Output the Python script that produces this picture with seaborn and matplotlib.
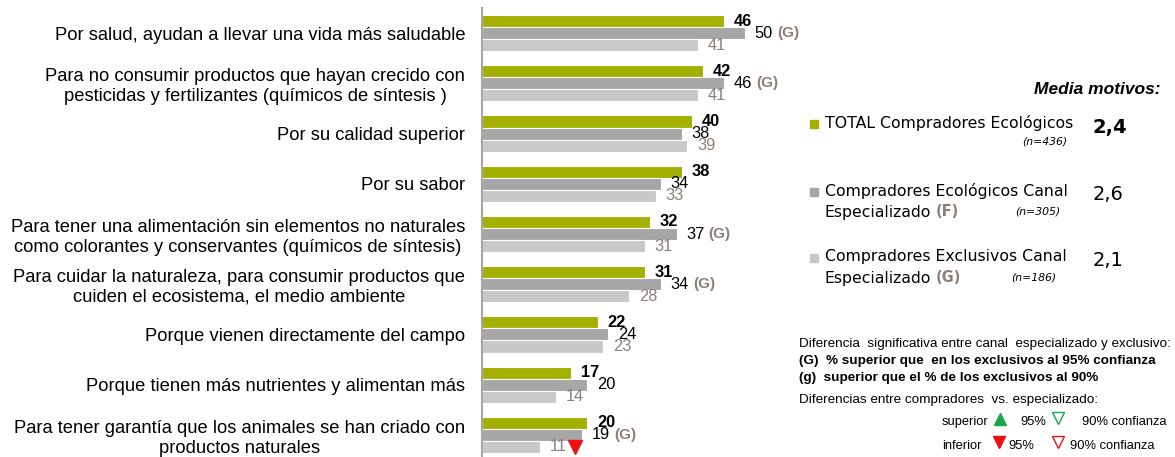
import pandas as pd
import matplotlib.pyplot as plt
from matplotlib.lines import Line2D
import seaborn as sns

# datos
motivos = [
    'Por salud, ayudan a llevar una vida más saludable',
    'Para no consumir productos que hayan crecido con\npesticidas y fertilizantes (químicos de síntesis )',
    'Por su calidad superior',
    'Por su sabor',
    'Para tener una alimentación sin elementos no naturales\ncomo colorantes y conservantes (químicos de síntesis)',
    'Para cuidar la naturaleza, para consumir productos que\ncuiden el ecosistema, el medio ambiente',
    'Porque vienen directamente del campo',
    'Porque tienen más nutrientes y alimentan más',
    'Para tener garantía que los animales se han criado con\nproductos naturales',
]
total = [46, 42, 40, 38, 32, 31, 22, 17, 20]
especializado = [50, 46, 38, 34, 37, 34, 24, 20, 19]
exclusivo = [41, 41, 39, 33, 31, 28, 23, 14, 11]
sig_especializado = ['(G)', '(G)', '', '', '(G)', '(G)', '', '', '(G)']
flecha_exclusivo = ['', '', '', '', '', '', '', '', 'down95']

grupos = ['TOTAL', 'Especializado', 'Exclusivo']
medias = ['2,4', '2,6', '2,1']
muestras = ['(n=436)', '(n=305)', '(n=186)']

colores = ['#a3b000', '#a6a6a6', '#c8c8c8']
gris_sig = '#8c7f7a'

df = pd.DataFrame({
    'motivo': motivos * 3,
    'valor': total + especializado + exclusivo,
    'grupo': [g for g in grupos for _ in motivos],
})

W, H = 1175, 457
def fx(x):
    return x / W
def fy(y):
    return 1 - y / H

sns.set_style('white')
plt.rcParams['font.family'] = ['Liberation Sans', 'DejaVu Sans']
plt.rcParams['text.color'] = 'black'

fig = plt.figure(figsize=(W / 100, H / 100), dpi=100)
ax = fig.add_axes([fx(482), 0, 308 / W, (H - 8) / H])

sns.barplot(data=df, x='valor', y='motivo', hue='grupo', orient='h',
            palette=colores, saturation=1, width=0.72, edgecolor='white',
            linewidth=0.8, legend=False, ax=ax)

ax.set_xlim(0, 308 / 5.26)
ax.set_ylim(8.44, -0.5)
ax.set_xlabel('')
ax.set_ylabel('')
ax.set_xticks([])
ax.tick_params(axis='y', length=0, pad=12, labelsize=13.2, labelcolor='black')
for t in ax.get_yticklabels():
    t.set_multialignment('center')
for s in ['top', 'right', 'bottom']:
    ax.spines[s].set_visible(False)
ax.spines['left'].set_color('#a6a6a6')
ax.spines['left'].set_linewidth(1.5)

# etiquetas de valor
estilos = [
    dict(color='black', fontweight='bold'),
    dict(color='black'),
    dict(color=gris_sig),
]
for k, cont in enumerate(ax.containers):
    for i, bar in enumerate(cont.patches):
        x = bar.get_width()
        y = bar.get_y() + bar.get_height() / 2
        ax.annotate(f'{x:.0f}', (x, y), xytext=(7, 0), textcoords='offset points',
                    ha='left', va='center', fontsize=11.8, **estilos[k],
                    annotation_clip=False)
        if k == 1 and sig_especializado[i]:
            ax.annotate(sig_especializado[i], (x, y), xytext=(23, 0),
                        textcoords='offset points', ha='left', va='center',
                        fontsize=11, color=gris_sig, fontweight='bold',
                        annotation_clip=False)
        if k == 2 and flecha_exclusivo[i] == 'down95':
            xp = ax.transData.transform((x, y))
            fig.add_artist(Line2D([(xp[0] + 35) / W], [xp[1] / H], marker='v',
                                  markersize=10, color='#ee1111', linestyle=''))

# leyenda
fig.text(fx(1161), fy(89), 'Media motivos:', ha='right', va='center',
         fontsize=12.5, fontweight='bold', fontstyle='italic')

leg_font = ['DejaVu Sans']
entradas = [
    (['TOTAL Compradores Ecológicos'], 123, '', 141, 1022),
    (['Compradores Ecológicos Canal', 'Especializado'], 191, '(F)', 211, 1015),
    (['Compradores Exclusivos Canal', 'Especializado'], 257, '(G)', 278, 1011),
]
y_media = [128, 195, 261]
for k, (lineas, y0, sig, yn, xn) in enumerate(entradas):
    fig.add_artist(Line2D([fx(814)], [fy(y0 + 1)], marker='s', markersize=6,
                          color=colores[k], linestyle=''))
    for j, linea in enumerate(lineas):
        t = fig.text(fx(825), fy(y0 + 21 * j), linea, ha='left', va='center',
                     fontsize=11.3, family=leg_font)
    if sig:
        fig.canvas.draw()
        bb = t.get_window_extent()
        fig.text((bb.x1 + 4) / W, fy(y0 + 21), sig, ha='left', va='center',
                 fontsize=10.5, color=gris_sig, fontweight='bold', family=leg_font)
    fig.text(fx(xn), fy(yn), muestras[k], ha='left', va='center', fontsize=7.8,
             fontstyle='italic', family=leg_font)
    fig.text(fx(1093), fy(y_media[k]), medias[k], ha='left', va='center',
             fontsize=14, fontweight='bold' if k == 0 else 'normal', family=leg_font)

# notas
nota = 9.7
fig.text(fx(799), fy(344), 'Diferencia  significativa entre canal  especializado y exclusivo:',
         ha='left', va='center', fontsize=nota)
fig.text(fx(799), fy(361), '(G)  % superior que  en los exclusivos al 95% confianza',
         ha='left', va='center', fontsize=nota, fontweight='bold')
fig.text(fx(799), fy(378), '(g)  superior que el % de los exclusivos al 90%',
         ha='left', va='center', fontsize=nota, fontweight='bold')
fig.text(fx(799), fy(400), 'Diferencias entre compradores  vs. especializado:',
         ha='left', va='center', fontsize=nota)

fila = 9.3
fig.text(fx(942), fy(422), 'superior', ha='left', va='center', fontsize=fila)
fig.add_artist(Line2D([fx(1000)], [fy(419)], marker='^', markersize=9,
                      color='#1aa64a', linestyle=''))
fig.text(fx(1020), fy(422), '95%', ha='left', va='center', fontsize=fila)
fig.add_artist(Line2D([fx(1058)], [fy(418)], marker='v', markersize=9,
                      markerfacecolor='white', markeredgecolor='#1aa64a',
                      linestyle=''))
fig.text(fx(1082), fy(422), '90% confianza', ha='left', va='center', fontsize=fila)

fig.text(fx(942), fy(446), 'inferior', ha='left', va='center', fontsize=fila)
fig.add_artist(Line2D([fx(999)], [fy(442)], marker='v', markersize=9,
                      color='#ee1111', linestyle=''))
fig.text(fx(1008), fy(446), '95%', ha='left', va='center', fontsize=fila)
fig.add_artist(Line2D([fx(1058)], [fy(442)], marker='v', markersize=9,
                      markerfacecolor='white', markeredgecolor='#ee1111',
                      linestyle=''))
fig.text(fx(1070), fy(446), '90% confianza', ha='left', va='center', fontsize=fila)

fig.savefig('out.png', dpi=100)
